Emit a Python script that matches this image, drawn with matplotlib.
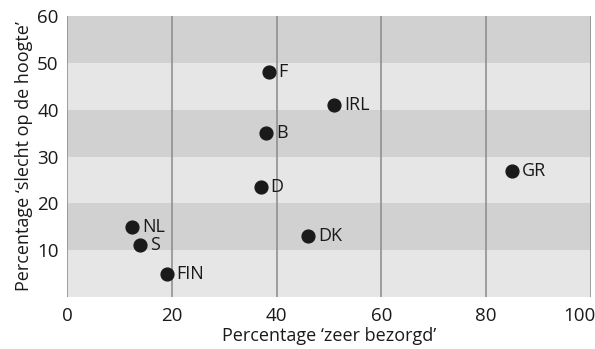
import matplotlib.pyplot as plt
from matplotlib.transforms import ScaledTranslation

plt.rcParams['font.family'] = ['Open Sans', 'DejaVu Sans']

landen = ['F', 'IRL', 'B', 'GR', 'D', 'DK', 'NL', 'S', 'FIN']
zeer_bezorgd = [38.5, 51, 38, 85, 37, 46, 12.5, 14, 19]
slecht_op_hoogte = [48, 41, 35, 27, 23.5, 13, 15, 11, 5]

x_ticks = [0, 20, 40, 60, 80, 100]
y_ticks = [10, 20, 30, 40, 50, 60]

fig = plt.figure(figsize=(5.95, 3.49), dpi=100)
ax = fig.add_axes([0.1126, 0.149, 0.8807, 0.805])

# afwisselende grijze banden
for i, y0 in enumerate(range(0, 60, 10)):
    kleur = '#d1d1d1' if i % 2 == 1 else '#e6e6e6'
    ax.axhspan(y0, y0 + 10, color=kleur, lw=0, zorder=0)
for x in x_ticks:
    ax.axvline(x, color='#8a8a8a', lw=1.1, zorder=1)

ax.scatter(zeer_bezorgd, slecht_op_hoogte, s=85, color='#1a1a1a', zorder=3)
for naam, x, y in zip(landen, zeer_bezorgd, slecht_op_hoogte):
    ax.annotate(naam, (x, y), xytext=(7, 0), textcoords='offset points',
                va='center', ha='left', fontsize=13, color='#1a1a1a')

ax.set_xlim(0, 100)
ax.set_ylim(0, 60)
ax.set_xticks(x_ticks)
ax.set_yticks(y_ticks)
ax.tick_params(length=0, labelsize=13.5, colors='#1a1a1a')
ax.tick_params(axis='x', pad=7)
ax.tick_params(axis='y', pad=6)
for s in ax.spines.values():
    s.set_visible(False)

# laatste label (100) naar links schuiven zodat het binnen de figuur valt
lbl = ax.get_xticklabels()[-1]
lbl.set_transform(lbl.get_transform() + ScaledTranslation(-12 / 100, 0, fig.dpi_scale_trans))

ax.set_xlabel('Percentage ‘zeer bezorgd’', fontsize=13, labelpad=2, color='#1a1a1a')
ax.set_ylabel('Percentage ‘slecht op de hoogte’', fontsize=13, labelpad=3, color='#1a1a1a')

fig.savefig('out.png', dpi=100)
